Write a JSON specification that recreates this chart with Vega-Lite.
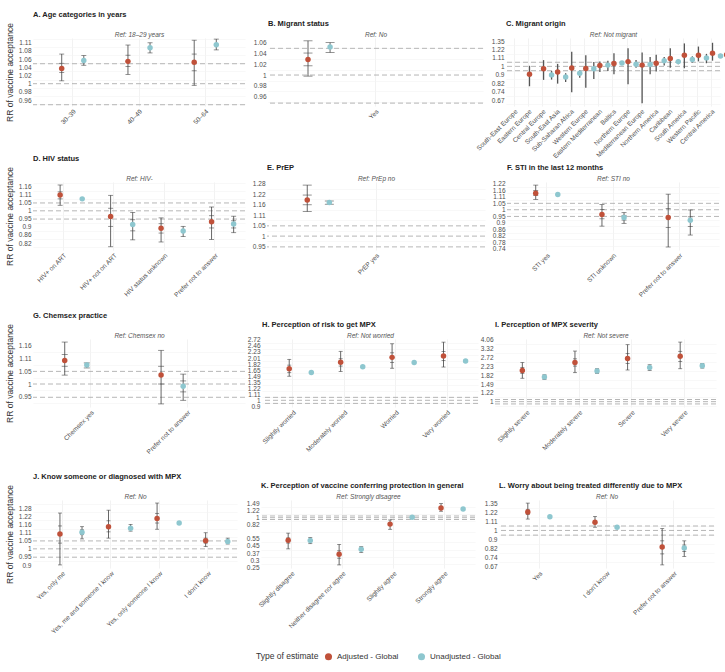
{
"$schema":"https://vega.github.io/schema/vega-lite/v6.json",
"padding":{"left":5,"top":11,"right":3,"bottom":5},
"datasets":{
"refs":[{"r":0.95},{"r":1},{"r":1.05}],
"d":[
{"p":"A","c":"30–39","t":"Adjusted - Global","e":1.038,"lo":1.007,"hi":1.075,"lo2":1.028,"hi2":1.051},
{"p":"A","c":"30–39","t":"Unadjusted - Global","e":1.058,"lo":1.046,"hi":1.071},
{"p":"A","c":"40–49","t":"Adjusted - Global","e":1.056,"lo":1.023,"hi":1.099,"lo2":1.043,"hi2":1.072},
{"p":"A","c":"40–49","t":"Unadjusted - Global","e":1.092,"lo":1.078,"hi":1.105},
{"p":"A","c":"50–64","t":"Adjusted - Global","e":1.054,"lo":0.996,"hi":1.112,"lo2":1.032,"hi2":1.075},
{"p":"A","c":"50–64","t":"Unadjusted - Global","e":1.1,"lo":1.086,"hi":1.115},
{"p":"B","c":"Yes","t":"Adjusted - Global","e":1.029,"lo":0.998,"hi":1.0645,"lo2":1.017,"hi2":1.041},
{"p":"B","c":"Yes","t":"Unadjusted - Global","e":1.0525,"lo":1.042,"hi":1.061},
{"p":"C","c":"South-East Europe","t":"Adjusted - Global","e":0.911,"lo":0.79,"hi":1.007},
{"p":"C","c":"South-East Europe","t":"Unadjusted - Global","e":0.904,"lo":0.855,"hi":0.946},
{"p":"C","c":"Eastern Europe","t":"Adjusted - Global","e":0.971,"lo":0.852,"hi":1.077},
{"p":"C","c":"Eastern Europe","t":"Unadjusted - Global","e":0.881,"lo":0.83,"hi":0.921},
{"p":"C","c":"Central Europe","t":"Adjusted - Global","e":0.935,"lo":0.815,"hi":1.03},
{"p":"C","c":"Central Europe","t":"Unadjusted - Global","e":0.921,"lo":0.874,"hi":0.953},
{"p":"C","c":"South-East Asia","t":"Adjusted - Global","e":0.982,"lo":0.736,"hi":1.191},
{"p":"C","c":"South-East Asia","t":"Unadjusted - Global","e":0.971,"lo":0.861,"hi":1.054},
{"p":"C","c":"Sub-Saharan Africa","t":"Adjusted - Global","e":0.974,"lo":0.776,"hi":1.14},
{"p":"C","c":"Sub-Saharan Africa","t":"Unadjusted - Global","e":1.015,"lo":0.946,"hi":1.07},
{"p":"C","c":"Western Europe","t":"Adjusted - Global","e":1.011,"lo":0.935,"hi":1.058},
{"p":"C","c":"Western Europe","t":"Unadjusted - Global","e":1.042,"lo":1.02,"hi":1.06},
{"p":"C","c":"Eastern Mediterranean","t":"Adjusted - Global","e":1.034,"lo":0.911,"hi":1.17},
{"p":"C","c":"Eastern Mediterranean","t":"Unadjusted - Global","e":1.026,"lo":0.985,"hi":1.078},
{"p":"C","c":"Baltics","t":"Adjusted - Global","e":1.058,"lo":0.81,"hi":1.24},
{"p":"C","c":"Baltics","t":"Unadjusted - Global","e":1.023,"lo":0.911,"hi":1.118},
{"p":"C","c":"Northern Europe","t":"Adjusted - Global","e":1.015,"lo":0.646,"hi":1.18},
{"p":"C","c":"Northern Europe","t":"Unadjusted - Global","e":1.07,"lo":1.011,"hi":1.118},
{"p":"C","c":"Mediterranean Europe","t":"Adjusted - Global","e":1.038,"lo":0.942,"hi":1.148},
{"p":"C","c":"Mediterranean Europe","t":"Unadjusted - Global","e":1.058,"lo":1.026,"hi":1.085},
{"p":"C","c":"Northern America","t":"Adjusted - Global","e":1.098,"lo":0.985,"hi":1.24},
{"p":"C","c":"Northern America","t":"Unadjusted - Global","e":1.085,"lo":1.046,"hi":1.127},
{"p":"C","c":"Caribbean","t":"Adjusted - Global","e":1.14,"lo":0.978,"hi":1.313},
{"p":"C","c":"Caribbean","t":"Unadjusted - Global","e":1.106,"lo":1.038,"hi":1.16},
{"p":"C","c":"South America","t":"Adjusted - Global","e":1.14,"lo":1.061,"hi":1.265},
{"p":"C","c":"South America","t":"Unadjusted - Global","e":1.131,"lo":1.106,"hi":1.16},
{"p":"C","c":"Western Pacific","t":"Adjusted - Global","e":1.17,"lo":1.07,"hi":1.323},
{"p":"C","c":"Western Pacific","t":"Unadjusted - Global","e":1.131,"lo":1.085,"hi":1.17},
{"p":"C","c":"Central America","t":"Adjusted - Global","e":1.148,"lo":0.982,"hi":1.298},
{"p":"C","c":"Central America","t":"Unadjusted - Global","e":1.14,"lo":1.106,"hi":1.174},
{"p":"D","c":"HIV+  on ART","t":"Adjusted - Global","e":1.103,"lo":1.035,"hi":1.174,"lo2":1.077,"hi2":1.125},
{"p":"D","c":"HIV+  on ART","t":"Unadjusted - Global","e":1.077},
{"p":"D","c":"HIV+  not on ART","t":"Adjusted - Global","e":0.965,"lo":0.8,"hi":1.101,"lo2":0.908,"hi2":1.016},
{"p":"D","c":"HIV+  not on ART","t":"Unadjusted - Global","e":0.918,"lo":0.835,"hi":0.99,"lo2":0.883,"hi2":0.946},
{"p":"D","c":"HIV status unknown","t":"Adjusted - Global","e":0.898,"lo":0.824,"hi":0.957,"lo2":0.871,"hi2":0.923},
{"p":"D","c":"HIV status unknown","t":"Unadjusted - Global","e":0.882,"lo":0.852,"hi":0.908},
{"p":"D","c":"Prefer not to answer","t":"Adjusted - Global","e":0.934,"lo":0.837,"hi":1.024,"lo2":0.899,"hi2":0.97},
{"p":"D","c":"Prefer not to answer","t":"Unadjusted - Global","e":0.921,"lo":0.873,"hi":0.967,"lo2":0.899,"hi2":0.94},
{"p":"E","c":"PrEP yes","t":"Adjusted - Global","e":1.188,"lo":1.124,"hi":1.275,"lo2":1.161,"hi2":1.216},
{"p":"E","c":"PrEP yes","t":"Unadjusted - Global","e":1.174,"lo":1.164,"hi":1.182},
{"p":"F","c":"STI yes","t":"Adjusted - Global","e":1.135,"lo":1.082,"hi":1.207,"lo2":1.115,"hi2":1.158},
{"p":"F","c":"STI yes","t":"Unadjusted - Global","e":1.123},
{"p":"F","c":"STI unknown","t":"Adjusted - Global","e":0.964,"lo":0.882,"hi":1.04,"lo2":0.933,"hi2":1.0025},
{"p":"F","c":"STI unknown","t":"Unadjusted - Global","e":0.942,"lo":0.901,"hi":0.978,"lo2":0.924,"hi2":0.958},
{"p":"F","c":"Prefer not to answer","t":"Adjusted - Global","e":0.942,"lo":0.752,"hi":1.126,"lo2":0.873,"hi2":1.01},
{"p":"F","c":"Prefer not to answer","t":"Unadjusted - Global","e":0.922,"lo":0.824,"hi":0.998,"lo2":0.88,"hi2":0.947},
{"p":"G","c":"Chemsex yes","t":"Adjusted - Global","e":1.095,"lo":1.035,"hi":1.176,"lo2":1.071,"hi2":1.121},
{"p":"G","c":"Chemsex yes","t":"Unadjusted - Global","e":1.076,"lo":1.064,"hi":1.085},
{"p":"G","c":"Prefer not to answer","t":"Adjusted - Global","e":1.035,"lo":0.926,"hi":1.139,"lo2":1.0,"hi2":1.071},
{"p":"G","c":"Prefer not to answer","t":"Unadjusted - Global","e":0.991,"lo":0.939,"hi":1.039,"lo2":0.97,"hi2":1.012},
{"p":"H","c":"Slightly worried","t":"Adjusted - Global","e":1.689,"lo":1.49,"hi":1.97,"lo2":1.58,"hi2":1.79},
{"p":"H","c":"Slightly worried","t":"Unadjusted - Global","e":1.584},
{"p":"H","c":"Moderately worried","t":"Adjusted - Global","e":1.88,"lo":1.61,"hi":2.25,"lo2":1.763,"hi2":1.99},
{"p":"H","c":"Moderately worried","t":"Unadjusted - Global","e":1.744},
{"p":"H","c":"Worried","t":"Adjusted - Global","e":2.036,"lo":1.7,"hi":2.55,"lo2":1.87,"hi2":2.195},
{"p":"H","c":"Worried","t":"Unadjusted - Global","e":1.87},
{"p":"H","c":"Very worried","t":"Adjusted - Global","e":2.08,"lo":1.735,"hi":2.62,"lo2":1.93,"hi2":2.24},
{"p":"H","c":"Very worried","t":"Unadjusted - Global","e":1.92},
{"p":"I","c":"Slightly severe","t":"Adjusted - Global","e":2.03,"lo":1.7,"hi":2.43,"lo2":1.9,"hi2":2.17},
{"p":"I","c":"Slightly severe","t":"Unadjusted - Global","e":1.75,"lo":1.65,"hi":1.84},
{"p":"I","c":"Moderately severe","t":"Adjusted - Global","e":2.43,"lo":1.93,"hi":3.15,"lo2":2.24,"hi2":2.64},
{"p":"I","c":"Moderately severe","t":"Unadjusted - Global","e":2.0,"lo":1.9,"hi":2.11},
{"p":"I","c":"Severe","t":"Adjusted - Global","e":2.66,"lo":2.05,"hi":3.64,"lo2":2.38,"hi2":2.97},
{"p":"I","c":"Severe","t":"Unadjusted - Global","e":2.17,"lo":2.03,"hi":2.31},
{"p":"I","c":"Very severe","t":"Adjusted - Global","e":2.8,"lo":2.11,"hi":3.86,"lo2":2.48,"hi2":3.13},
{"p":"I","c":"Very severe","t":"Unadjusted - Global","e":2.26,"lo":2.14,"hi":2.38},
{"p":"J","c":"Yes, only me","t":"Adjusted - Global","e":1.095,"lo":0.906,"hi":1.246,"lo2":1.036,"hi2":1.151},
{"p":"J","c":"Yes, only me","t":"Unadjusted - Global","e":1.108,"lo":1.063,"hi":1.146,"lo2":1.091,"hi2":1.124},
{"p":"J","c":"Yes, me and someone I know","t":"Adjusted - Global","e":1.146,"lo":1.068,"hi":1.268,"lo2":1.11,"hi2":1.188},
{"p":"J","c":"Yes, me and someone I know","t":"Unadjusted - Global","e":1.135,"lo":1.115,"hi":1.162},
{"p":"J","c":"Yes, only someone I know","t":"Adjusted - Global","e":1.205,"lo":1.128,"hi":1.325,"lo2":1.172,"hi2":1.243},
{"p":"J","c":"Yes, only someone I know","t":"Unadjusted - Global","e":1.172},
{"p":"J","c":"I don't know","t":"Adjusted - Global","e":1.051,"lo":1.014,"hi":1.104,"lo2":1.036,"hi2":1.068},
{"p":"J","c":"I don't know","t":"Unadjusted - Global","e":1.046,"lo":1.03,"hi":1.068},
{"p":"K","c":"Slightly disagree","t":"Adjusted - Global","e":0.529,"lo":0.414,"hi":0.646,"lo2":0.488,"hi2":0.564},
{"p":"K","c":"Slightly disagree","t":"Unadjusted - Global","e":0.524,"lo":0.48,"hi":0.57},
{"p":"K","c":"Neither disagree nor agree","t":"Adjusted - Global","e":0.355,"lo":0.263,"hi":0.47,"lo2":0.318,"hi2":0.392},
{"p":"K","c":"Neither disagree nor agree","t":"Unadjusted - Global","e":0.41,"lo":0.375,"hi":0.441},
{"p":"K","c":"Slightly agree","t":"Adjusted - Global","e":0.834,"lo":0.72,"hi":0.938},
{"p":"K","c":"Slightly agree","t":"Unadjusted - Global","e":1.01},
{"p":"K","c":"Strongly agree","t":"Adjusted - Global","e":1.314,"lo":1.2,"hi":1.49},
{"p":"K","c":"Strongly agree","t":"Unadjusted - Global","e":1.28},
{"p":"L","c":"Yes","t":"Adjusted - Global","e":1.226,"lo":1.133,"hi":1.35,"lo2":1.191,"hi2":1.261},
{"p":"L","c":"Yes","t":"Unadjusted - Global","e":1.162},
{"p":"L","c":"I don't know","t":"Adjusted - Global","e":1.093,"lo":1.036,"hi":1.166},
{"p":"L","c":"I don't know","t":"Unadjusted - Global","e":1.036},
{"p":"L","c":"Prefer not to answer","t":"Adjusted - Global","e":0.833,"lo":0.685,"hi":1.021,"lo2":0.773,"hi2":0.892},
{"p":"L","c":"Prefer not to answer","t":"Unadjusted - Global","e":0.825,"lo":0.751,"hi":0.892,"lo2":0.793,"hi2":0.852}
]},
"spacing":14,
"vconcat":[
{"spacing":-5,"vconcat":[
{"bounds":"flush","spacing":23,"hconcat":[
{"width":212,"height":68,"title":"A. Age categories in years","data":{"name":"d"},
"layer":[
{"data":{"name":"refs"},"mark":{"type":"rule","strokeDash":[5,3],"color":"#a3a3a3","strokeWidth":0.8},"encoding":{"y":{"field":"r","type":"quantitative","scale":{"type":"log","domain":[0.947,1.118],"nice":false},"axis":{"orient":"right","values":[0.9512,0.9704,0.99,1.0101,1.0305,1.0513,1.0725,1.0942,1.1163],"labels":false,"grid":true,"gridColor":"#f4f4f4","title":null}}}},
{"transform":[{"filter":"datum.p=='A' && isValid(datum.lo)"}],"mark":{"type":"rule","color":"#404040","strokeWidth":0.8},"encoding":{"x":{"field":"c","type":"nominal","sort":null,"scale":{"paddingInner":0,"paddingOuter":0.1},"axis":{"title":null,"labelAngle":-45,"grid":true,"bandPosition":0.5}},"xOffset":{"field":"t","type":"nominal","scale":{"domain":["Adjusted - Global","Unadjusted - Global"],"paddingInner":0,"paddingOuter":0.5}},"y":{"field":"lo","type":"quantitative","axis":{"values":[0.9608,0.9802,1,1.0202,1.0408,1.0618,1.0833,1.1052],"labelExpr":"format(datum.value,'.2~f')","title":"RR of vaccine acceptance"}},"y2":{"field":"hi"}}},
{"transform":[{"filter":"datum.p=='A'"},{"fold":["lo","hi","lo2","hi2"],"as":["k","v"]},{"filter":"isValid(datum.v)"}],"mark":{"type":"tick","size":5,"thickness":0.8,"color":"#404040"},"encoding":{"x":{"field":"c","type":"nominal","sort":null,"axis":null},"xOffset":{"field":"t","type":"nominal"},"y":{"field":"v","type":"quantitative","axis":null}}},
{"transform":[{"filter":"datum.p=='A'"}],"mark":{"type":"circle","size":30,"opacity":1},"encoding":{"x":{"field":"c","type":"nominal","sort":null,"axis":{"orient":"top","title":"Ref: 18–29 years","labels":false,"grid":false}},"xOffset":{"field":"t","type":"nominal"},"y":{"field":"e","type":"quantitative","axis":null},"color":{"field":"t","type":"nominal","scale":{"domain":["Adjusted - Global","Unadjusted - Global"],"range":["#c0513a","#8ec7cf"]},"title":"Type of estimate"}}}
],"resolve":{"axis":{"x":"independent","y":"independent"}}},
{"width":215,"height":68,"title":"B. Migrant status","data":{"name":"d"},
"layer":[
{"data":{"name":"refs"},"mark":{"type":"rule","strokeDash":[5,3],"color":"#a3a3a3","strokeWidth":0.8},"encoding":{"y":{"field":"r","type":"quantitative","scale":{"type":"log","domain":[0.945,1.07],"nice":false},"axis":{"orient":"right","values":[0.9512,0.9704,0.99,1.0101,1.0305,1.0513],"labels":false,"grid":true,"gridColor":"#f4f4f4","title":null}}}},
{"transform":[{"filter":"datum.p=='B' && isValid(datum.lo)"}],"mark":{"type":"rule","color":"#404040","strokeWidth":0.8},"encoding":{"x":{"field":"c","type":"nominal","sort":null,"scale":{"paddingInner":0,"paddingOuter":0.1},"axis":{"title":null,"labelAngle":-45,"grid":true,"bandPosition":0.5}},"xOffset":{"field":"t","type":"nominal","scale":{"domain":["Adjusted - Global","Unadjusted - Global"],"paddingInner":0,"paddingOuter":0.5}},"y":{"field":"lo","type":"quantitative","axis":{"values":[0.9608,0.9802,1,1.0202,1.0408,1.0618],"labelExpr":"format(datum.value,'.2~f')","title":null}},"y2":{"field":"hi"}}},
{"transform":[{"filter":"datum.p=='B'"},{"fold":["lo","hi","lo2","hi2"],"as":["k","v"]},{"filter":"isValid(datum.v)"}],"mark":{"type":"tick","size":9,"thickness":0.8,"color":"#404040"},"encoding":{"x":{"field":"c","type":"nominal","sort":null,"axis":null},"xOffset":{"field":"t","type":"nominal"},"y":{"field":"v","type":"quantitative","axis":null}}},
{"transform":[{"filter":"datum.p=='B'"}],"mark":{"type":"circle","size":30,"opacity":1},"encoding":{"x":{"field":"c","type":"nominal","sort":null,"axis":{"orient":"top","title":"Ref: No","labels":false,"grid":false}},"xOffset":{"field":"t","type":"nominal"},"y":{"field":"e","type":"quantitative","axis":null},"color":{"field":"t","type":"nominal","scale":{"domain":["Adjusted - Global","Unadjusted - Global"],"range":["#c0513a","#8ec7cf"]},"title":"Type of estimate"}}}
],"resolve":{"axis":{"x":"independent","y":"independent"}}},
{"width":214,"height":68,"title":"C. Migrant origin","data":{"name":"d"},
"layer":[
{"data":{"name":"refs"},"mark":{"type":"rule","strokeDash":[5,3],"color":"#a3a3a3","strokeWidth":0.8},"encoding":{"y":{"field":"r","type":"quantitative","scale":{"type":"log","domain":[0.625,1.4],"nice":false},"axis":{"orient":"right","values":[0.6376,0.7047,0.7788,0.8607,0.9512,1.0513,1.1618,1.284],"labels":false,"grid":true,"gridColor":"#f4f4f4","title":null}}}},
{"transform":[{"filter":"datum.p=='C' && isValid(datum.lo)"}],"mark":{"type":"rule","color":"#555555","strokeWidth":1.3},"encoding":{"x":{"field":"c","type":"nominal","sort":null,"scale":{"paddingInner":0,"paddingOuter":0.1},"axis":{"title":null,"labelAngle":-45,"grid":true,"bandPosition":0.5}},"xOffset":{"field":"t","type":"nominal","scale":{"domain":["Adjusted - Global","Unadjusted - Global"],"paddingInner":0,"paddingOuter":0.5}},"y":{"field":"lo","type":"quantitative","axis":{"values":[0.6703,0.7408,0.8187,0.9048,1,1.1052,1.2214,1.3499],"labelExpr":"format(datum.value,'.2~f')","title":null}},"y2":{"field":"hi"}}},
{"transform":[{"filter":"datum.p=='C'"}],"mark":{"type":"circle","size":30,"opacity":1},"encoding":{"x":{"field":"c","type":"nominal","sort":null,"axis":{"orient":"top","title":"Ref: Not migrant","labels":false,"grid":false}},"xOffset":{"field":"t","type":"nominal"},"y":{"field":"e","type":"quantitative","axis":null},"color":{"field":"t","type":"nominal","scale":{"domain":["Adjusted - Global","Unadjusted - Global"],"range":["#c0513a","#8ec7cf"]},"title":"Type of estimate"}}}
],"resolve":{"axis":{"x":"independent","y":"independent"}}}
]},
{"bounds":"flush","spacing":22,"hconcat":[
{"width":212,"height":68,"title":"D. HIV status","data":{"name":"d"},
"layer":[
{"data":{"name":"refs"},"mark":{"type":"rule","strokeDash":[5,3],"color":"#a3a3a3","strokeWidth":0.8},"encoding":{"y":{"field":"r","type":"quantitative","scale":{"type":"log","domain":[0.784,1.196],"nice":false},"axis":{"orient":"right","values":[0.7985,0.8395,0.8825,0.9277,0.9753,1.0253,1.0779,1.1331,1.1912],"labels":false,"grid":true,"gridColor":"#f4f4f4","title":null}}}},
{"transform":[{"filter":"datum.p=='D' && isValid(datum.lo)"}],"mark":{"type":"rule","color":"#404040","strokeWidth":0.8},"encoding":{"x":{"field":"c","type":"nominal","sort":null,"scale":{"paddingInner":0,"paddingOuter":0.1},"axis":{"title":null,"labelAngle":-45,"grid":true,"bandPosition":0.5}},"xOffset":{"field":"t","type":"nominal","scale":{"domain":["Adjusted - Global","Unadjusted - Global"],"paddingInner":0,"paddingOuter":0.5}},"y":{"field":"lo","type":"quantitative","axis":{"values":[0.8187,0.8607,0.9048,0.9512,1,1.0513,1.1052,1.1618],"labelExpr":"format(datum.value,'.2~f')","title":"RR of vaccine acceptance"}},"y2":{"field":"hi"}}},
{"transform":[{"filter":"datum.p=='D'"},{"fold":["lo","hi","lo2","hi2"],"as":["k","v"]},{"filter":"isValid(datum.v)"}],"mark":{"type":"tick","size":5,"thickness":0.8,"color":"#404040"},"encoding":{"x":{"field":"c","type":"nominal","sort":null,"axis":null},"xOffset":{"field":"t","type":"nominal"},"y":{"field":"v","type":"quantitative","axis":null}}},
{"transform":[{"filter":"datum.p=='D'"}],"mark":{"type":"circle","size":30,"opacity":1},"encoding":{"x":{"field":"c","type":"nominal","sort":null,"axis":{"orient":"top","title":"Ref: HIV-","labels":false,"grid":false}},"xOffset":{"field":"t","type":"nominal"},"y":{"field":"e","type":"quantitative","axis":null},"color":{"field":"t","type":"nominal","scale":{"domain":["Adjusted - Global","Unadjusted - Global"],"range":["#c0513a","#8ec7cf"]},"title":"Type of estimate"}}}
],"resolve":{"axis":{"x":"independent","y":"independent"}}},
{"width":218,"height":68,"title":"E. PrEP","data":{"name":"d"},
"layer":[
{"data":{"name":"refs"},"mark":{"type":"rule","strokeDash":[5,3],"color":"#a3a3a3","strokeWidth":0.8},"encoding":{"y":{"field":"r","type":"quantitative","scale":{"type":"log","domain":[0.936,1.294],"nice":false},"axis":{"orient":"right","values":[0.9753,1.0253,1.0779,1.1331,1.1912,1.2523],"labels":false,"grid":true,"gridColor":"#f4f4f4","title":null}}}},
{"transform":[{"filter":"datum.p=='E' && isValid(datum.lo)"}],"mark":{"type":"rule","color":"#404040","strokeWidth":0.8},"encoding":{"x":{"field":"c","type":"nominal","sort":null,"scale":{"paddingInner":0,"paddingOuter":0.1},"axis":{"title":null,"labelAngle":-45,"grid":true,"bandPosition":0.5}},"xOffset":{"field":"t","type":"nominal","scale":{"domain":["Adjusted - Global","Unadjusted - Global"],"paddingInner":0,"paddingOuter":0.5}},"y":{"field":"lo","type":"quantitative","axis":{"values":[0.9512,1,1.0513,1.1052,1.1618,1.2214,1.284],"labelExpr":"format(datum.value,'.2~f')","title":null}},"y2":{"field":"hi"}}},
{"transform":[{"filter":"datum.p=='E'"},{"fold":["lo","hi","lo2","hi2"],"as":["k","v"]},{"filter":"isValid(datum.v)"}],"mark":{"type":"tick","size":9,"thickness":0.8,"color":"#404040"},"encoding":{"x":{"field":"c","type":"nominal","sort":null,"axis":null},"xOffset":{"field":"t","type":"nominal"},"y":{"field":"v","type":"quantitative","axis":null}}},
{"transform":[{"filter":"datum.p=='E'"}],"mark":{"type":"circle","size":30,"opacity":1},"encoding":{"x":{"field":"c","type":"nominal","sort":null,"axis":{"orient":"top","title":"Ref: PrEp no","labels":false,"grid":false}},"xOffset":{"field":"t","type":"nominal"},"y":{"field":"e","type":"quantitative","axis":null},"color":{"field":"t","type":"nominal","scale":{"domain":["Adjusted - Global","Unadjusted - Global"],"range":["#c0513a","#8ec7cf"]},"title":"Type of estimate"}}}
],"resolve":{"axis":{"x":"independent","y":"independent"}}},
{"width":212,"height":68,"title":"F. STI in the last 12 months","data":{"name":"d"},
"layer":[
{"data":{"name":"refs"},"mark":{"type":"rule","strokeDash":[5,3],"color":"#a3a3a3","strokeWidth":0.8},"encoding":{"y":{"field":"r","type":"quantitative","scale":{"type":"log","domain":[0.735,1.236],"nice":false},"axis":{"orient":"right","values":[0.7596,0.7985,0.8395,0.8825,0.9277,0.9753,1.0253,1.0779,1.1331,1.1912],"labels":false,"grid":true,"gridColor":"#f4f4f4","title":null}}}},
{"transform":[{"filter":"datum.p=='F' && isValid(datum.lo)"}],"mark":{"type":"rule","color":"#404040","strokeWidth":0.8},"encoding":{"x":{"field":"c","type":"nominal","sort":null,"scale":{"paddingInner":0,"paddingOuter":0.1},"axis":{"title":null,"labelAngle":-45,"grid":true,"bandPosition":0.5}},"xOffset":{"field":"t","type":"nominal","scale":{"domain":["Adjusted - Global","Unadjusted - Global"],"paddingInner":0,"paddingOuter":0.5}},"y":{"field":"lo","type":"quantitative","axis":{"values":[0.7408,0.7788,0.8187,0.8607,0.9048,0.9512,1,1.0513,1.1052,1.1618,1.2214],"labelExpr":"format(datum.value,'.2~f')","title":null}},"y2":{"field":"hi"}}},
{"transform":[{"filter":"datum.p=='F'"},{"fold":["lo","hi","lo2","hi2"],"as":["k","v"]},{"filter":"isValid(datum.v)"}],"mark":{"type":"tick","size":5,"thickness":0.8,"color":"#404040"},"encoding":{"x":{"field":"c","type":"nominal","sort":null,"axis":null},"xOffset":{"field":"t","type":"nominal"},"y":{"field":"v","type":"quantitative","axis":null}}},
{"transform":[{"filter":"datum.p=='F'"}],"mark":{"type":"circle","size":30,"opacity":1},"encoding":{"x":{"field":"c","type":"nominal","sort":null,"axis":{"orient":"top","title":"Ref: STI no","labels":false,"grid":false}},"xOffset":{"field":"t","type":"nominal"},"y":{"field":"e","type":"quantitative","axis":null},"color":{"field":"t","type":"nominal","scale":{"domain":["Adjusted - Global","Unadjusted - Global"],"range":["#c0513a","#8ec7cf"]},"title":"Type of estimate"}}}
],"resolve":{"axis":{"x":"independent","y":"independent"}}}
]}
]},
{"spacing":18,"vconcat":[
{"bounds":"flush","spacing":17,"hconcat":[
{"width":212,"height":68,"title":"G. Chemsex practice","data":{"name":"d"},
"layer":[
{"data":{"name":"refs"},"mark":{"type":"rule","strokeDash":[5,3],"color":"#a3a3a3","strokeWidth":0.8},"encoding":{"y":{"field":"r","type":"quantitative","scale":{"type":"log","domain":[0.915,1.19],"nice":false},"axis":{"orient":"right","values":[0.9277,0.9753,1.0253,1.0779,1.1331],"labels":false,"grid":true,"gridColor":"#f4f4f4","title":null}}}},
{"transform":[{"filter":"datum.p=='G' && isValid(datum.lo)"}],"mark":{"type":"rule","color":"#404040","strokeWidth":0.8},"encoding":{"x":{"field":"c","type":"nominal","sort":null,"scale":{"paddingInner":0,"paddingOuter":0.1},"axis":{"title":null,"labelAngle":-45,"grid":true,"bandPosition":0.5}},"xOffset":{"field":"t","type":"nominal","scale":{"domain":["Adjusted - Global","Unadjusted - Global"],"paddingInner":0,"paddingOuter":0.5}},"y":{"field":"lo","type":"quantitative","axis":{"values":[0.9512,1,1.0513,1.1052,1.1618],"labelExpr":"format(datum.value,'.2~f')","title":"RR of vaccine acceptance"}},"y2":{"field":"hi"}}},
{"transform":[{"filter":"datum.p=='G'"},{"fold":["lo","hi","lo2","hi2"],"as":["k","v"]},{"filter":"isValid(datum.v)"}],"mark":{"type":"tick","size":6,"thickness":0.8,"color":"#404040"},"encoding":{"x":{"field":"c","type":"nominal","sort":null,"axis":null},"xOffset":{"field":"t","type":"nominal"},"y":{"field":"v","type":"quantitative","axis":null}}},
{"transform":[{"filter":"datum.p=='G'"}],"mark":{"type":"circle","size":30,"opacity":1},"encoding":{"x":{"field":"c","type":"nominal","sort":null,"axis":{"orient":"top","title":"Ref: Chemsex no","labels":false,"grid":false}},"xOffset":{"field":"t","type":"nominal"},"y":{"field":"e","type":"quantitative","axis":null},"color":{"field":"t","type":"nominal","scale":{"domain":["Adjusted - Global","Unadjusted - Global"],"range":["#c0513a","#8ec7cf"]},"title":"Type of estimate"}}}
],"resolve":{"axis":{"x":"independent","y":"independent"}}},
{"width":216,"height":68,"title":"H. Perception of risk to get MPX","data":{"name":"d"},
"layer":[
{"data":{"name":"refs"},"mark":{"type":"rule","strokeDash":[5,3],"color":"#a3a3a3","strokeWidth":0.8},"encoding":{"y":{"field":"r","type":"quantitative","scale":{"type":"log","domain":[0.895,2.76],"nice":false},"axis":{"orient":"right","values":[0.9512,1.0513,1.1618,1.284,1.4191,1.5683,1.7333,1.9155,2.117,2.3396,2.5857],"labels":false,"grid":true,"gridColor":"#f4f4f4","title":null}}}},
{"transform":[{"filter":"datum.p=='H' && isValid(datum.lo)"}],"mark":{"type":"rule","color":"#404040","strokeWidth":0.8},"encoding":{"x":{"field":"c","type":"nominal","sort":null,"scale":{"paddingInner":0,"paddingOuter":0.1},"axis":{"title":null,"labelAngle":-45,"grid":true,"bandPosition":0.5}},"xOffset":{"field":"t","type":"nominal","scale":{"domain":["Adjusted - Global","Unadjusted - Global"],"paddingInner":0,"paddingOuter":0.5}},"y":{"field":"lo","type":"quantitative","axis":{"values":[0.9048,1,1.1052,1.2214,1.3499,1.4918,1.6487,1.8221,2.0138,2.2255,2.4596,2.7183],"labelExpr":"format(datum.value,'.2~f')","title":null}},"y2":{"field":"hi"}}},
{"transform":[{"filter":"datum.p=='H'"},{"fold":["lo","hi","lo2","hi2"],"as":["k","v"]},{"filter":"isValid(datum.v)"}],"mark":{"type":"tick","size":4,"thickness":0.8,"color":"#404040"},"encoding":{"x":{"field":"c","type":"nominal","sort":null,"axis":null},"xOffset":{"field":"t","type":"nominal"},"y":{"field":"v","type":"quantitative","axis":null}}},
{"transform":[{"filter":"datum.p=='H'"}],"mark":{"type":"circle","size":30,"opacity":1},"encoding":{"x":{"field":"c","type":"nominal","sort":null,"axis":{"orient":"top","title":"Ref: Not worried","labels":false,"grid":false}},"xOffset":{"field":"t","type":"nominal"},"y":{"field":"e","type":"quantitative","axis":null},"color":{"field":"t","type":"nominal","scale":{"domain":["Adjusted - Global","Unadjusted - Global"],"range":["#c0513a","#8ec7cf"]},"title":"Type of estimate"}}}
],"resolve":{"axis":{"x":"independent","y":"independent"}}},
{"width":221,"height":68,"title":"I. Perception of MPX severity","data":{"name":"d"},
"layer":[
{"data":{"name":"refs"},"mark":{"type":"rule","strokeDash":[5,3],"color":"#a3a3a3","strokeWidth":0.8},"encoding":{"y":{"field":"r","type":"quantitative","scale":{"type":"log","domain":[0.886,4.14],"nice":false},"axis":{"orient":"right","values":[0.9048,1.1052,1.3499,1.6487,2.0138,2.4596,3.0042,3.6693],"labels":false,"grid":true,"gridColor":"#f4f4f4","title":null}}}},
{"transform":[{"filter":"datum.p=='I' && isValid(datum.lo)"}],"mark":{"type":"rule","color":"#404040","strokeWidth":0.8},"encoding":{"x":{"field":"c","type":"nominal","sort":null,"scale":{"paddingInner":0,"paddingOuter":0.1},"axis":{"title":null,"labelAngle":-45,"grid":true,"bandPosition":0.5}},"xOffset":{"field":"t","type":"nominal","scale":{"domain":["Adjusted - Global","Unadjusted - Global"],"paddingInner":0,"paddingOuter":0.5}},"y":{"field":"lo","type":"quantitative","axis":{"values":[1,1.2214,1.4918,1.8221,2.2255,2.7183,3.3201,4.0552],"labelExpr":"format(datum.value,'.2~f')","title":null}},"y2":{"field":"hi"}}},
{"transform":[{"filter":"datum.p=='I'"},{"fold":["lo","hi","lo2","hi2"],"as":["k","v"]},{"filter":"isValid(datum.v)"}],"mark":{"type":"tick","size":4,"thickness":0.8,"color":"#404040"},"encoding":{"x":{"field":"c","type":"nominal","sort":null,"axis":null},"xOffset":{"field":"t","type":"nominal"},"y":{"field":"v","type":"quantitative","axis":null}}},
{"transform":[{"filter":"datum.p=='I'"}],"mark":{"type":"circle","size":30,"opacity":1},"encoding":{"x":{"field":"c","type":"nominal","sort":null,"axis":{"orient":"top","title":"Ref: Not severe","labels":false,"grid":false}},"xOffset":{"field":"t","type":"nominal"},"y":{"field":"e","type":"quantitative","axis":null},"color":{"field":"t","type":"nominal","scale":{"domain":["Adjusted - Global","Unadjusted - Global"],"range":["#c0513a","#8ec7cf"]},"title":"Type of estimate"}}}
],"resolve":{"axis":{"x":"independent","y":"independent"}}}
]},
{"bounds":"flush","spacing":24,"hconcat":[
{"width":204,"height":68,"title":"J. Know someone or diagnosed with MPX","data":{"name":"d"},
"layer":[
{"data":{"name":"refs"},"mark":{"type":"rule","strokeDash":[5,3],"color":"#a3a3a3","strokeWidth":0.8},"encoding":{"y":{"field":"r","type":"quantitative","scale":{"type":"log","domain":[0.889,1.35],"nice":false},"axis":{"orient":"right","values":[0.9277,0.9753,1.0253,1.0779,1.1331,1.1912,1.2523,1.3165],"labels":false,"grid":true,"gridColor":"#f4f4f4","title":null}}}},
{"transform":[{"filter":"datum.p=='J' && isValid(datum.lo)"}],"mark":{"type":"rule","color":"#404040","strokeWidth":0.8},"encoding":{"x":{"field":"c","type":"nominal","sort":null,"scale":{"paddingInner":0,"paddingOuter":0.1},"axis":{"title":null,"labelAngle":-45,"grid":true,"bandPosition":0.5}},"xOffset":{"field":"t","type":"nominal","scale":{"domain":["Adjusted - Global","Unadjusted - Global"],"paddingInner":0,"paddingOuter":0.5}},"y":{"field":"lo","type":"quantitative","axis":{"values":[0.9048,0.9512,1,1.0513,1.1052,1.1618,1.2214,1.284],"labelExpr":"format(datum.value,'.2~f')","title":"RR of vaccine acceptance"}},"y2":{"field":"hi"}}},
{"transform":[{"filter":"datum.p=='J'"},{"fold":["lo","hi","lo2","hi2"],"as":["k","v"]},{"filter":"isValid(datum.v)"}],"mark":{"type":"tick","size":4,"thickness":0.8,"color":"#404040"},"encoding":{"x":{"field":"c","type":"nominal","sort":null,"axis":null},"xOffset":{"field":"t","type":"nominal"},"y":{"field":"v","type":"quantitative","axis":null}}},
{"transform":[{"filter":"datum.p=='J'"}],"mark":{"type":"circle","size":30,"opacity":1},"encoding":{"x":{"field":"c","type":"nominal","sort":null,"axis":{"orient":"top","title":"Ref: No","labels":false,"grid":false}},"xOffset":{"field":"t","type":"nominal"},"y":{"field":"e","type":"quantitative","axis":null},"color":{"field":"t","type":"nominal","scale":{"domain":["Adjusted - Global","Unadjusted - Global"],"range":["#c0513a","#8ec7cf"]},"title":"Type of estimate"}}}
],"resolve":{"axis":{"x":"independent","y":"independent"}}},
{"width":214,"height":68,"title":"K. Perception of vaccine conferring protection in general","data":{"name":"d"},
"layer":[
{"data":{"name":"refs"},"mark":{"type":"rule","strokeDash":[5,3],"color":"#a3a3a3","strokeWidth":0.8},"encoding":{"y":{"field":"r","type":"quantitative","scale":{"type":"log","domain":[0.241,1.65],"nice":false},"axis":{"orient":"right","values":[0.2725,0.3329,0.4066,0.4966,0.6703,0.9048,1.1052,1.3499],"labels":false,"grid":true,"gridColor":"#f4f4f4","title":null}}}},
{"transform":[{"filter":"datum.p=='K' && isValid(datum.lo)"}],"mark":{"type":"rule","color":"#404040","strokeWidth":0.8},"encoding":{"x":{"field":"c","type":"nominal","sort":null,"scale":{"paddingInner":0,"paddingOuter":0.1},"axis":{"title":null,"labelAngle":-45,"grid":true,"bandPosition":0.5}},"xOffset":{"field":"t","type":"nominal","scale":{"domain":["Adjusted - Global","Unadjusted - Global"],"paddingInner":0,"paddingOuter":0.5}},"y":{"field":"lo","type":"quantitative","axis":{"values":[0.2466,0.3012,0.3679,0.4493,0.5488,0.8187,1,1.2214,1.4918],"labelExpr":"format(datum.value,'.2~f')","title":null}},"y2":{"field":"hi"}}},
{"transform":[{"filter":"datum.p=='K'"},{"fold":["lo","hi","lo2","hi2"],"as":["k","v"]},{"filter":"isValid(datum.v)"}],"mark":{"type":"tick","size":4,"thickness":0.8,"color":"#404040"},"encoding":{"x":{"field":"c","type":"nominal","sort":null,"axis":null},"xOffset":{"field":"t","type":"nominal"},"y":{"field":"v","type":"quantitative","axis":null}}},
{"transform":[{"filter":"datum.p=='K'"}],"mark":{"type":"circle","size":30,"opacity":1},"encoding":{"x":{"field":"c","type":"nominal","sort":null,"axis":{"orient":"top","title":"Ref: Strongly disagree","labels":false,"grid":false}},"xOffset":{"field":"t","type":"nominal"},"y":{"field":"e","type":"quantitative","axis":null},"color":{"field":"t","type":"nominal","scale":{"domain":["Adjusted - Global","Unadjusted - Global"],"range":["#c0513a","#8ec7cf"]},"title":"Type of estimate"}}}
],"resolve":{"axis":{"x":"independent","y":"independent"}}},
{"width":215,"height":68,"title":"L. Worry about being treated differently due to MPX","data":{"name":"d"},
"layer":[
{"data":{"name":"refs"},"mark":{"type":"rule","strokeDash":[5,3],"color":"#a3a3a3","strokeWidth":0.8},"encoding":{"y":{"field":"r","type":"quantitative","scale":{"type":"log","domain":[0.662,1.397],"nice":false},"axis":{"orient":"right","values":[0.7047,0.7788,0.8607,0.9512,1.0513,1.1618,1.284],"labels":false,"grid":true,"gridColor":"#f4f4f4","title":null}}}},
{"transform":[{"filter":"datum.p=='L' && isValid(datum.lo)"}],"mark":{"type":"rule","color":"#404040","strokeWidth":0.8},"encoding":{"x":{"field":"c","type":"nominal","sort":null,"scale":{"paddingInner":0,"paddingOuter":0.1},"axis":{"title":null,"labelAngle":-45,"grid":true,"bandPosition":0.5}},"xOffset":{"field":"t","type":"nominal","scale":{"domain":["Adjusted - Global","Unadjusted - Global"],"paddingInner":0,"paddingOuter":0.5}},"y":{"field":"lo","type":"quantitative","axis":{"values":[0.6703,0.7408,0.8187,0.9048,1,1.1052,1.2214,1.3499],"labelExpr":"format(datum.value,'.2~f')","title":null}},"y2":{"field":"hi"}}},
{"transform":[{"filter":"datum.p=='L'"},{"fold":["lo","hi","lo2","hi2"],"as":["k","v"]},{"filter":"isValid(datum.v)"}],"mark":{"type":"tick","size":4,"thickness":0.8,"color":"#404040"},"encoding":{"x":{"field":"c","type":"nominal","sort":null,"axis":null},"xOffset":{"field":"t","type":"nominal"},"y":{"field":"v","type":"quantitative","axis":null}}},
{"transform":[{"filter":"datum.p=='L'"}],"mark":{"type":"circle","size":30,"opacity":1},"encoding":{"x":{"field":"c","type":"nominal","sort":null,"axis":{"orient":"top","title":"Ref: No","labels":false,"grid":false}},"xOffset":{"field":"t","type":"nominal"},"y":{"field":"e","type":"quantitative","axis":null},"color":{"field":"t","type":"nominal","scale":{"domain":["Adjusted - Global","Unadjusted - Global"],"range":["#c0513a","#8ec7cf"]},"title":"Type of estimate"}}}
],"resolve":{"axis":{"x":"independent","y":"independent"}}}
]}
]}
],
"config":{
"font":"Liberation Sans",
"view":{"stroke":null},
"axis":{"labelFontSize":6.5,"labelColor":"#4d4d4d","domain":false,"ticks":false,"labelPadding":2,"gridColor":"#e9e9e9","gridWidth":0.6,"titleFontWeight":"normal","titleFontSize":8.5,"titleColor":"#333333","labelOverlap":false,"labelBound":false,"labelFlush":false},
"axisTop":{"titleFontStyle":"italic","titleFontSize":6.5,"titleColor":"#555555","titlePadding":1},
"title":{"anchor":"start","fontSize":7.5,"fontWeight":"bold","color":"#222222","frame":"group","offset":0},
"legend":{"orient":"bottom","direction":"horizontal","titleOrient":"left","titleFontSize":8.5,"titleFontWeight":"normal","titleColor":"#333333","labelFontSize":8,"labelColor":"#333333","symbolSize":50,"symbolType":"circle","columnPadding":18,"offset":17,"layout":{"bottom":{"anchor":"middle"}}}
}
}
